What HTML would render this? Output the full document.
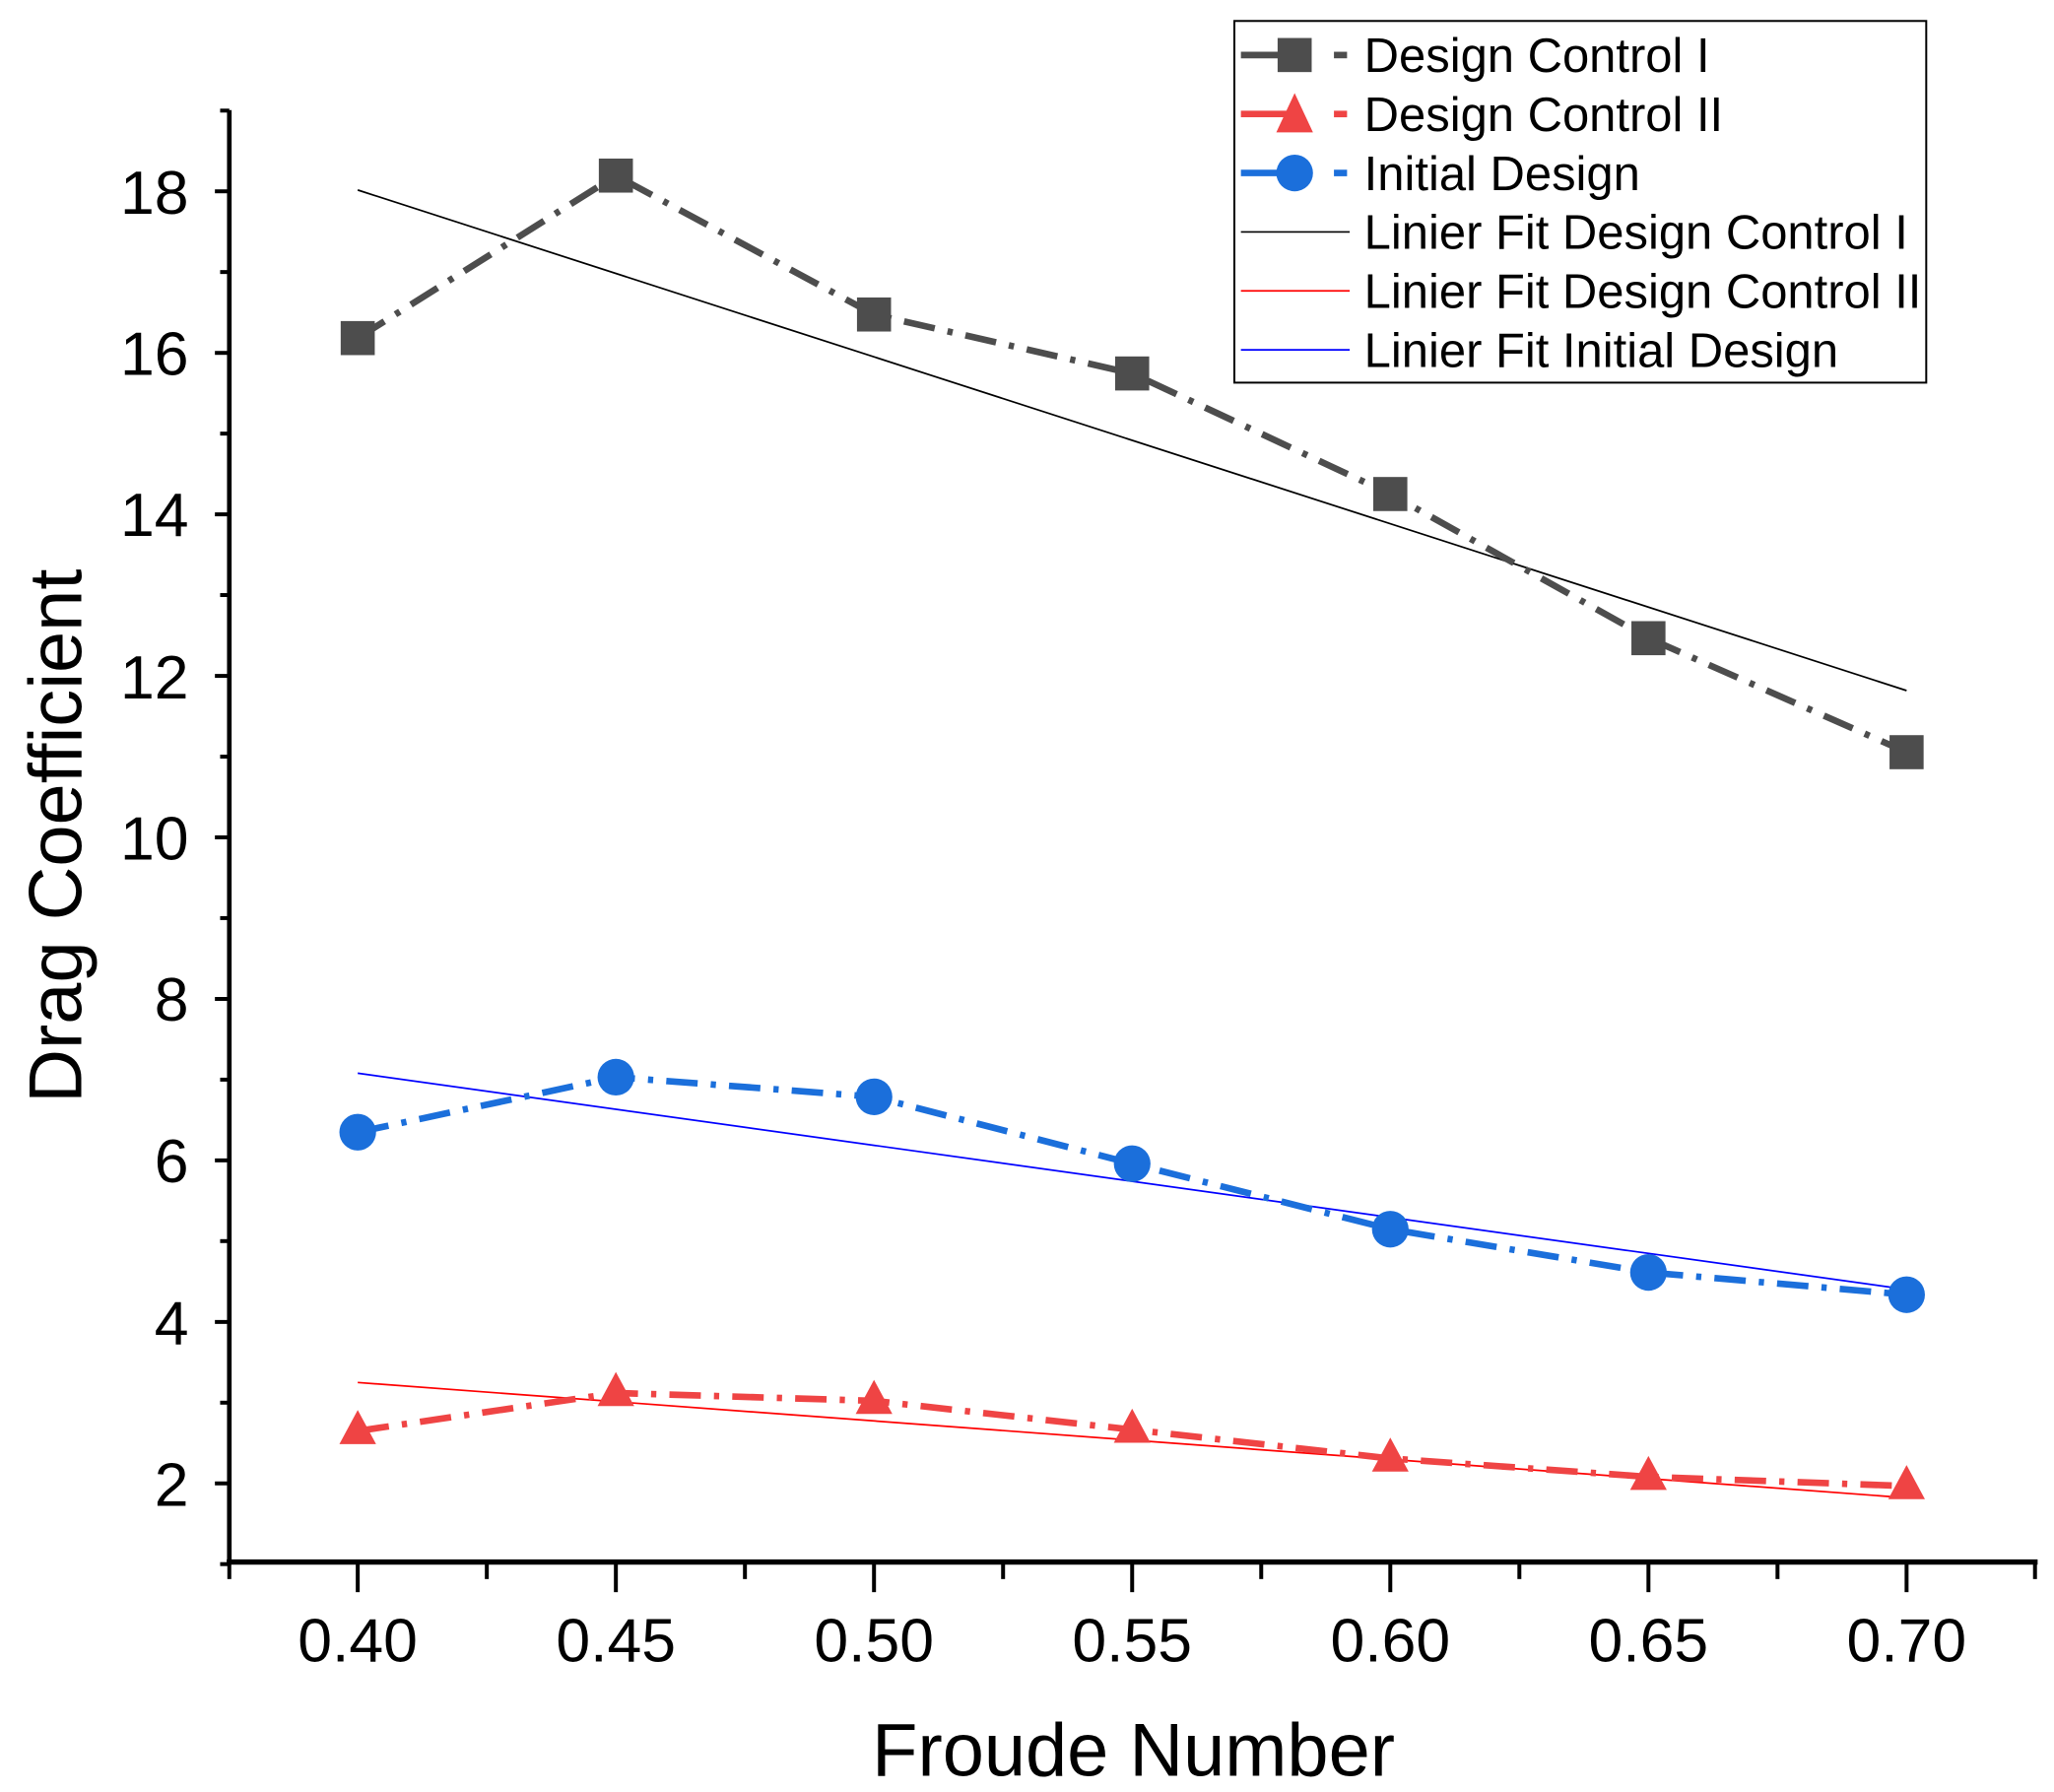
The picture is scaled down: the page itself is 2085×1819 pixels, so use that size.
<!DOCTYPE html>
<html><head><meta charset="utf-8"><style>
html,body{margin:0;padding:0;background:#fff;}
svg{display:block;}
text{font-family:"Liberation Sans",Arial,sans-serif;fill:#000;}
</style></head><body>
<svg width="2085" height="1819" viewBox="0 0 1567.5 1367.5" preserveAspectRatio="none" xmlns="http://www.w3.org/2000/svg">
<rect width="1567.5" height="1367.5" fill="#fff"/>
<line x1="175" y1="84" x2="175" y2="1194" stroke="#000" stroke-width="3.5"/>
<line x1="173" y1="1192" x2="1555" y2="1192" stroke="#000" stroke-width="4"/>
<g stroke="#000" stroke-width="3">
<line x1="164" y1="146" x2="175" y2="146"/><line x1="164" y1="269.3" x2="175" y2="269.3"/>
<line x1="164" y1="392.5" x2="175" y2="392.5"/><line x1="164" y1="515.8" x2="175" y2="515.8"/>
<line x1="164" y1="639" x2="175" y2="639"/><line x1="164" y1="762.3" x2="175" y2="762.3"/>
<line x1="164" y1="885.5" x2="175" y2="885.5"/><line x1="164" y1="1008.8" x2="175" y2="1008.8"/>
<line x1="164" y1="1132" x2="175" y2="1132"/>
<line x1="168" y1="84.4" x2="175" y2="84.4"/><line x1="168" y1="207.6" x2="175" y2="207.6"/>
<line x1="168" y1="330.9" x2="175" y2="330.9"/><line x1="168" y1="454.1" x2="175" y2="454.1"/>
<line x1="168" y1="577.4" x2="175" y2="577.4"/><line x1="168" y1="700.6" x2="175" y2="700.6"/>
<line x1="168" y1="823.9" x2="175" y2="823.9"/><line x1="168" y1="947.1" x2="175" y2="947.1"/>
<line x1="168" y1="1070.4" x2="175" y2="1070.4"/><line x1="168" y1="1193.6" x2="175" y2="1193.6"/>
<line x1="273" y1="1192" x2="273" y2="1215"/><line x1="470" y1="1192" x2="470" y2="1215"/>
<line x1="667" y1="1192" x2="667" y2="1215"/><line x1="864" y1="1192" x2="864" y2="1215"/>
<line x1="1061" y1="1192" x2="1061" y2="1215"/><line x1="1258" y1="1192" x2="1258" y2="1215"/>
<line x1="1455" y1="1192" x2="1455" y2="1215"/>
<line x1="175" y1="1192" x2="175" y2="1205"/><line x1="371.5" y1="1192" x2="371.5" y2="1205"/>
<line x1="568.5" y1="1192" x2="568.5" y2="1205"/><line x1="765.5" y1="1192" x2="765.5" y2="1205"/>
<line x1="962.5" y1="1192" x2="962.5" y2="1205"/><line x1="1159.5" y1="1192" x2="1159.5" y2="1205"/>
<line x1="1356.5" y1="1192" x2="1356.5" y2="1205"/><line x1="1553" y1="1192" x2="1553" y2="1205"/>
</g>
<g font-size="47" text-anchor="end">
<text x="144" y="163">18</text><text x="144" y="286">16</text><text x="144" y="409">14</text>
<text x="144" y="533">12</text><text x="144" y="656">10</text><text x="144" y="779">8</text>
<text x="144" y="902">6</text><text x="144" y="1026">4</text><text x="144" y="1149">2</text>
</g>
<g font-size="47" text-anchor="middle">
<text x="273" y="1268">0.40</text><text x="470" y="1268">0.45</text><text x="667" y="1268">0.50</text>
<text x="864" y="1268">0.55</text><text x="1061" y="1268">0.60</text><text x="1258" y="1268">0.65</text>
<text x="1455" y="1268">0.70</text>
</g>
<text x="865" y="1355" font-size="57" text-anchor="middle">Froude Number</text>
<text transform="translate(62,638) rotate(-90)" font-size="57" text-anchor="middle">Drag Coefficient</text>
<line x1="273" y1="145" x2="1455" y2="527" stroke="#000" stroke-width="1.3"/>
<line x1="273" y1="1055" x2="1455" y2="1143" stroke="#f00" stroke-width="1.3"/>
<line x1="273" y1="819" x2="1455" y2="984" stroke="#00f" stroke-width="1.3"/>
<g fill="none" stroke-width="5" stroke-dasharray="24 10 4 10">
<polyline stroke="#4d4d4d" points="273,258 470,134 667,240 864,285 1061,377 1258,487 1455,574"/>
<polyline stroke="#ef4444" points="273,1092 470,1063 667,1069 864,1091 1061,1113 1258,1127 1455,1134"/>
<polyline stroke="#1b6fdb" points="273,864 470,822 667,837 864,888 1061,938 1258,971 1455,988"/>
</g>
<g fill="#4d4d4d">
<rect x="260" y="245" width="26" height="26"/><rect x="457" y="121" width="26" height="26"/>
<rect x="654" y="227" width="26" height="26"/><rect x="851" y="272" width="26" height="26"/>
<rect x="1048" y="364" width="26" height="26"/><rect x="1245" y="474" width="26" height="26"/>
<rect x="1442" y="561" width="26" height="26"/>
</g>
<g fill="#ef4444">
<polygon points="273,1076 259,1102 287,1102"/><polygon points="470,1047 456,1073 484,1073"/>
<polygon points="667,1053 653,1079 681,1079"/><polygon points="864,1075 850,1101 878,1101"/>
<polygon points="1061,1097 1047,1123 1075,1123"/><polygon points="1258,1111 1244,1137 1272,1137"/>
<polygon points="1455,1118 1441,1144 1469,1144"/>
</g>
<g fill="#1b6fdb">
<circle cx="273" cy="864" r="14"/><circle cx="470" cy="822" r="14"/><circle cx="667" cy="837" r="14"/>
<circle cx="864" cy="888" r="14"/><circle cx="1061" cy="938" r="14"/><circle cx="1258" cy="971" r="14"/>
<circle cx="1455" cy="988" r="14"/>
</g>
<rect x="942" y="16" width="528" height="276" fill="#fff" stroke="#000" stroke-width="1.5"/>
<g stroke-width="5">
<line x1="947" y1="42" x2="985" y2="42" stroke="#4d4d4d"/><line x1="1018" y1="42" x2="1028" y2="42" stroke="#4d4d4d"/>
<line x1="947" y1="87" x2="985" y2="87" stroke="#ef4444"/><line x1="1018" y1="87" x2="1028" y2="87" stroke="#ef4444"/>
<line x1="947" y1="132" x2="985" y2="132" stroke="#1b6fdb"/><line x1="1018" y1="132" x2="1028" y2="132" stroke="#1b6fdb"/>
</g>
<rect x="975" y="29" width="26" height="26" fill="#4d4d4d"/>
<polygon points="988,71 974,101 1002,101" fill="#ef4444"/>
<circle cx="988" cy="132" r="14" fill="#1b6fdb"/>
<line x1="947" y1="177" x2="1030" y2="177" stroke="#000" stroke-width="1.3"/>
<line x1="947" y1="222" x2="1030" y2="222" stroke="#f00" stroke-width="1.3"/>
<line x1="947" y1="267" x2="1030" y2="267" stroke="#00f" stroke-width="1.3"/>
<g font-size="36.8">
<text x="1041" y="55">Design Control I</text>
<text x="1041" y="100">Design Control II</text>
<text x="1041" y="145">Initial Design</text>
<text x="1041" y="190">Linier Fit Design Control I</text>
<text x="1041" y="235">Linier Fit Design Control II</text>
<text x="1041" y="280">Linier Fit Initial Design</text>
</g>
</svg>
</body></html>
